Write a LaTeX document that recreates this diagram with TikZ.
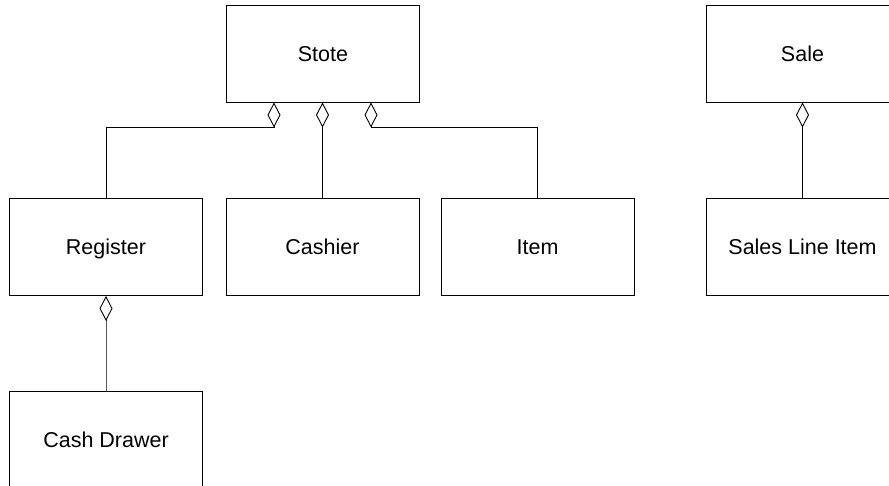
\documentclass[tikz,border=0pt]{standalone}
\usepackage{fontspec}
\setmainfont{Liberation Sans}
\usetikzlibrary{arrows.meta}
\begin{document}
\begin{tikzpicture}[x=1pt,y=-1pt,
  cls/.style={draw, line width=0.9pt, minimum width=193pt, minimum height=97pt, inner sep=0pt, text height=15.5pt, text depth=0pt, font=\fontsize{21.5}{24}\selectfont},
  agg/.style={line width=0.9pt, -{Diamond[open, length=25pt, width=13pt, line width=0.9pt]}}]
\useasboundingbox (0,0) rectangle (889,486);
\fill[white] (0,0) rectangle (889,486);
\clip (0,0) rectangle (889,486);
\node[cls] (stote) at (323,53.5) {Stote};
\node[cls] (sale) at (802.5,53.5) {Sale};
\node[cls] (reg) at (106,247) {Register};
\node[cls] (cash) at (322.5,247) {Cashier};
\node[cls] (item) at (537.5,247) {Item};
\node[cls] (sli) at (802.5,247) {Sales Line Item};
\node[cls] (drawer) at (106,439.5) {Cash Drawer};
\path (stote.south) ++(-49,0) coordinate (sl) ++(0,25) coordinate (sl2);
\path (stote.south) ++(-1,0) coordinate (sm) ++(0,25) coordinate (sm2);
\path (stote.south) ++(48,0) coordinate (sr) ++(0,25) coordinate (sr2);
\draw[agg] (reg.north) |- (sl2) -- (sl);
\draw[agg] (cash.north) -- (cash.north |- sm2) -- (cash.north |- sm);
\draw[agg] (item.north) |- (sr2) -- (sr);
\draw[agg] (drawer.north) -- ++(0,-71) -- (reg.south);
\draw[agg] (sli.north) -- ++(0,-72) -- (sale.south);
\end{tikzpicture}
\end{document}
